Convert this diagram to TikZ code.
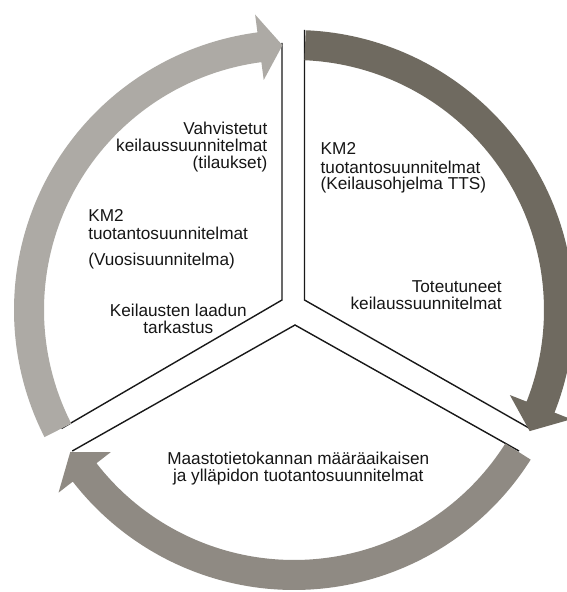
\documentclass[tikz,border=0pt]{standalone}
\usepackage{fontspec}
\setmainfont{Liberation Sans}
\definecolor{arrLight}{HTML}{ADAAA5}
\definecolor{arrDark}{HTML}{6F6A60}
\definecolor{arrMid}{HTML}{8F8A83}
\definecolor{txtcol}{HTML}{161616}
\begin{document}
\begin{tikzpicture}[x=1pt,y=1pt,
  lbl/.style={inner sep=0pt, outer sep=0pt, text=txtcol, font=\fontsize{17.2}{17.2}\selectfont},
  sectorline/.style={draw=black!90, line width=1.4pt, line join=miter, line cap=butt}]
\useasboundingbox (0,0) rectangle (567,592);
\clip (0,0) rectangle (567,592);
\fill[white] (0,0) rectangle (567,592);

% sector edges
\coordinate (LT) at (282,549);
\coordinate (LC) at (282,292);
\coordinate (LE) at (61.5,163.5);
\coordinate (RT) at (304.5,562);
\coordinate (RC) at (304.5,292);
\coordinate (RE) at (529.8,163.5);
\coordinate (BL) at (72.3,141);
\coordinate (BA) at (295,267);
\coordinate (BR) at (519,141);
\draw[sectorline] (LT) -- (LC) -- (LE);
\draw[sectorline] (RT) -- (RC) -- (RE);
\draw[sectorline] (BL) -- (BA) -- (BR);

% cycle arrows
\begin{scope}[shift={(294,282)}]
\fill[arrLight] (207:280) arc[start angle=207, end angle=97.5, radius=280]
  -- (97.5:298) -- (92.5:265) -- (97.5:232) -- (97.5:250)
  arc[start angle=97.5, end angle=207, radius=250] -- cycle;
\fill[arrDark] (87.6:280) arc[start angle=87.6, end angle=-21.5, radius=280]
  -- (-21.5:298) -- (-27.2:265) -- (-21.5:232) -- (-21.5:250)
  arc[start angle=-21.5, end angle=87.6, radius=250] -- cycle;
\fill[arrMid] (-32.3:280) arc[start angle=-32.3, end angle=-142.2, radius=280]
  -- (-142.2:298) -- (-147.6:265) -- (-142.2:232) -- (-142.2:250)
  arc[start angle=-142.2, end angle=-32.3, radius=250] -- cycle;
\end{scope}

% texts
\node[lbl, anchor=base east] (a1) at (267.3,457) {Vahvistetut};
\node[lbl, anchor=base east] (a2) at (267.3,440.3) {keilaussuunnitelmat};
\node[lbl, anchor=base east] (a3) at (267.3,423.6) {(tilaukset)};

\node[lbl, anchor=base west] (b1) at (88.3,370.3) {KM2};
\node[lbl, anchor=base west] (b2) at (88.3,352.7) {tuotantosuunnitelmat};
\node[lbl, anchor=base west] (b3) at (88.3,326.3) {(Vuosisuunnitelma)};

\node[lbl, anchor=base] (c1) at (178.3,275) {Keilausten laadun};
\node[lbl, anchor=base] (c2) at (178.3,258) {tarkastus};

\node[lbl, anchor=base west] (d1) at (320.7,437) {KM2};
\node[lbl, anchor=base west] (d2) at (320.7,418.7) {tuotantosuunnitelmat};
\node[lbl, anchor=base west] (d3) at (320.7,402) {(Keilausohjelma TTS)};

\node[lbl, anchor=base east] (e1) at (501.7,299.3) {Toteutuneet};
\node[lbl, anchor=base east] (e2) at (501.7,282) {keilaussuunnitelmat};

\node[lbl, anchor=base] (f1) at (298.3,127) {Maastotietokannan määräaikaisen};
\node[lbl, anchor=base] (f2) at (298.3,110.3) {ja ylläpidon tuotantosuunnitelmat};
\end{tikzpicture}
\end{document}
